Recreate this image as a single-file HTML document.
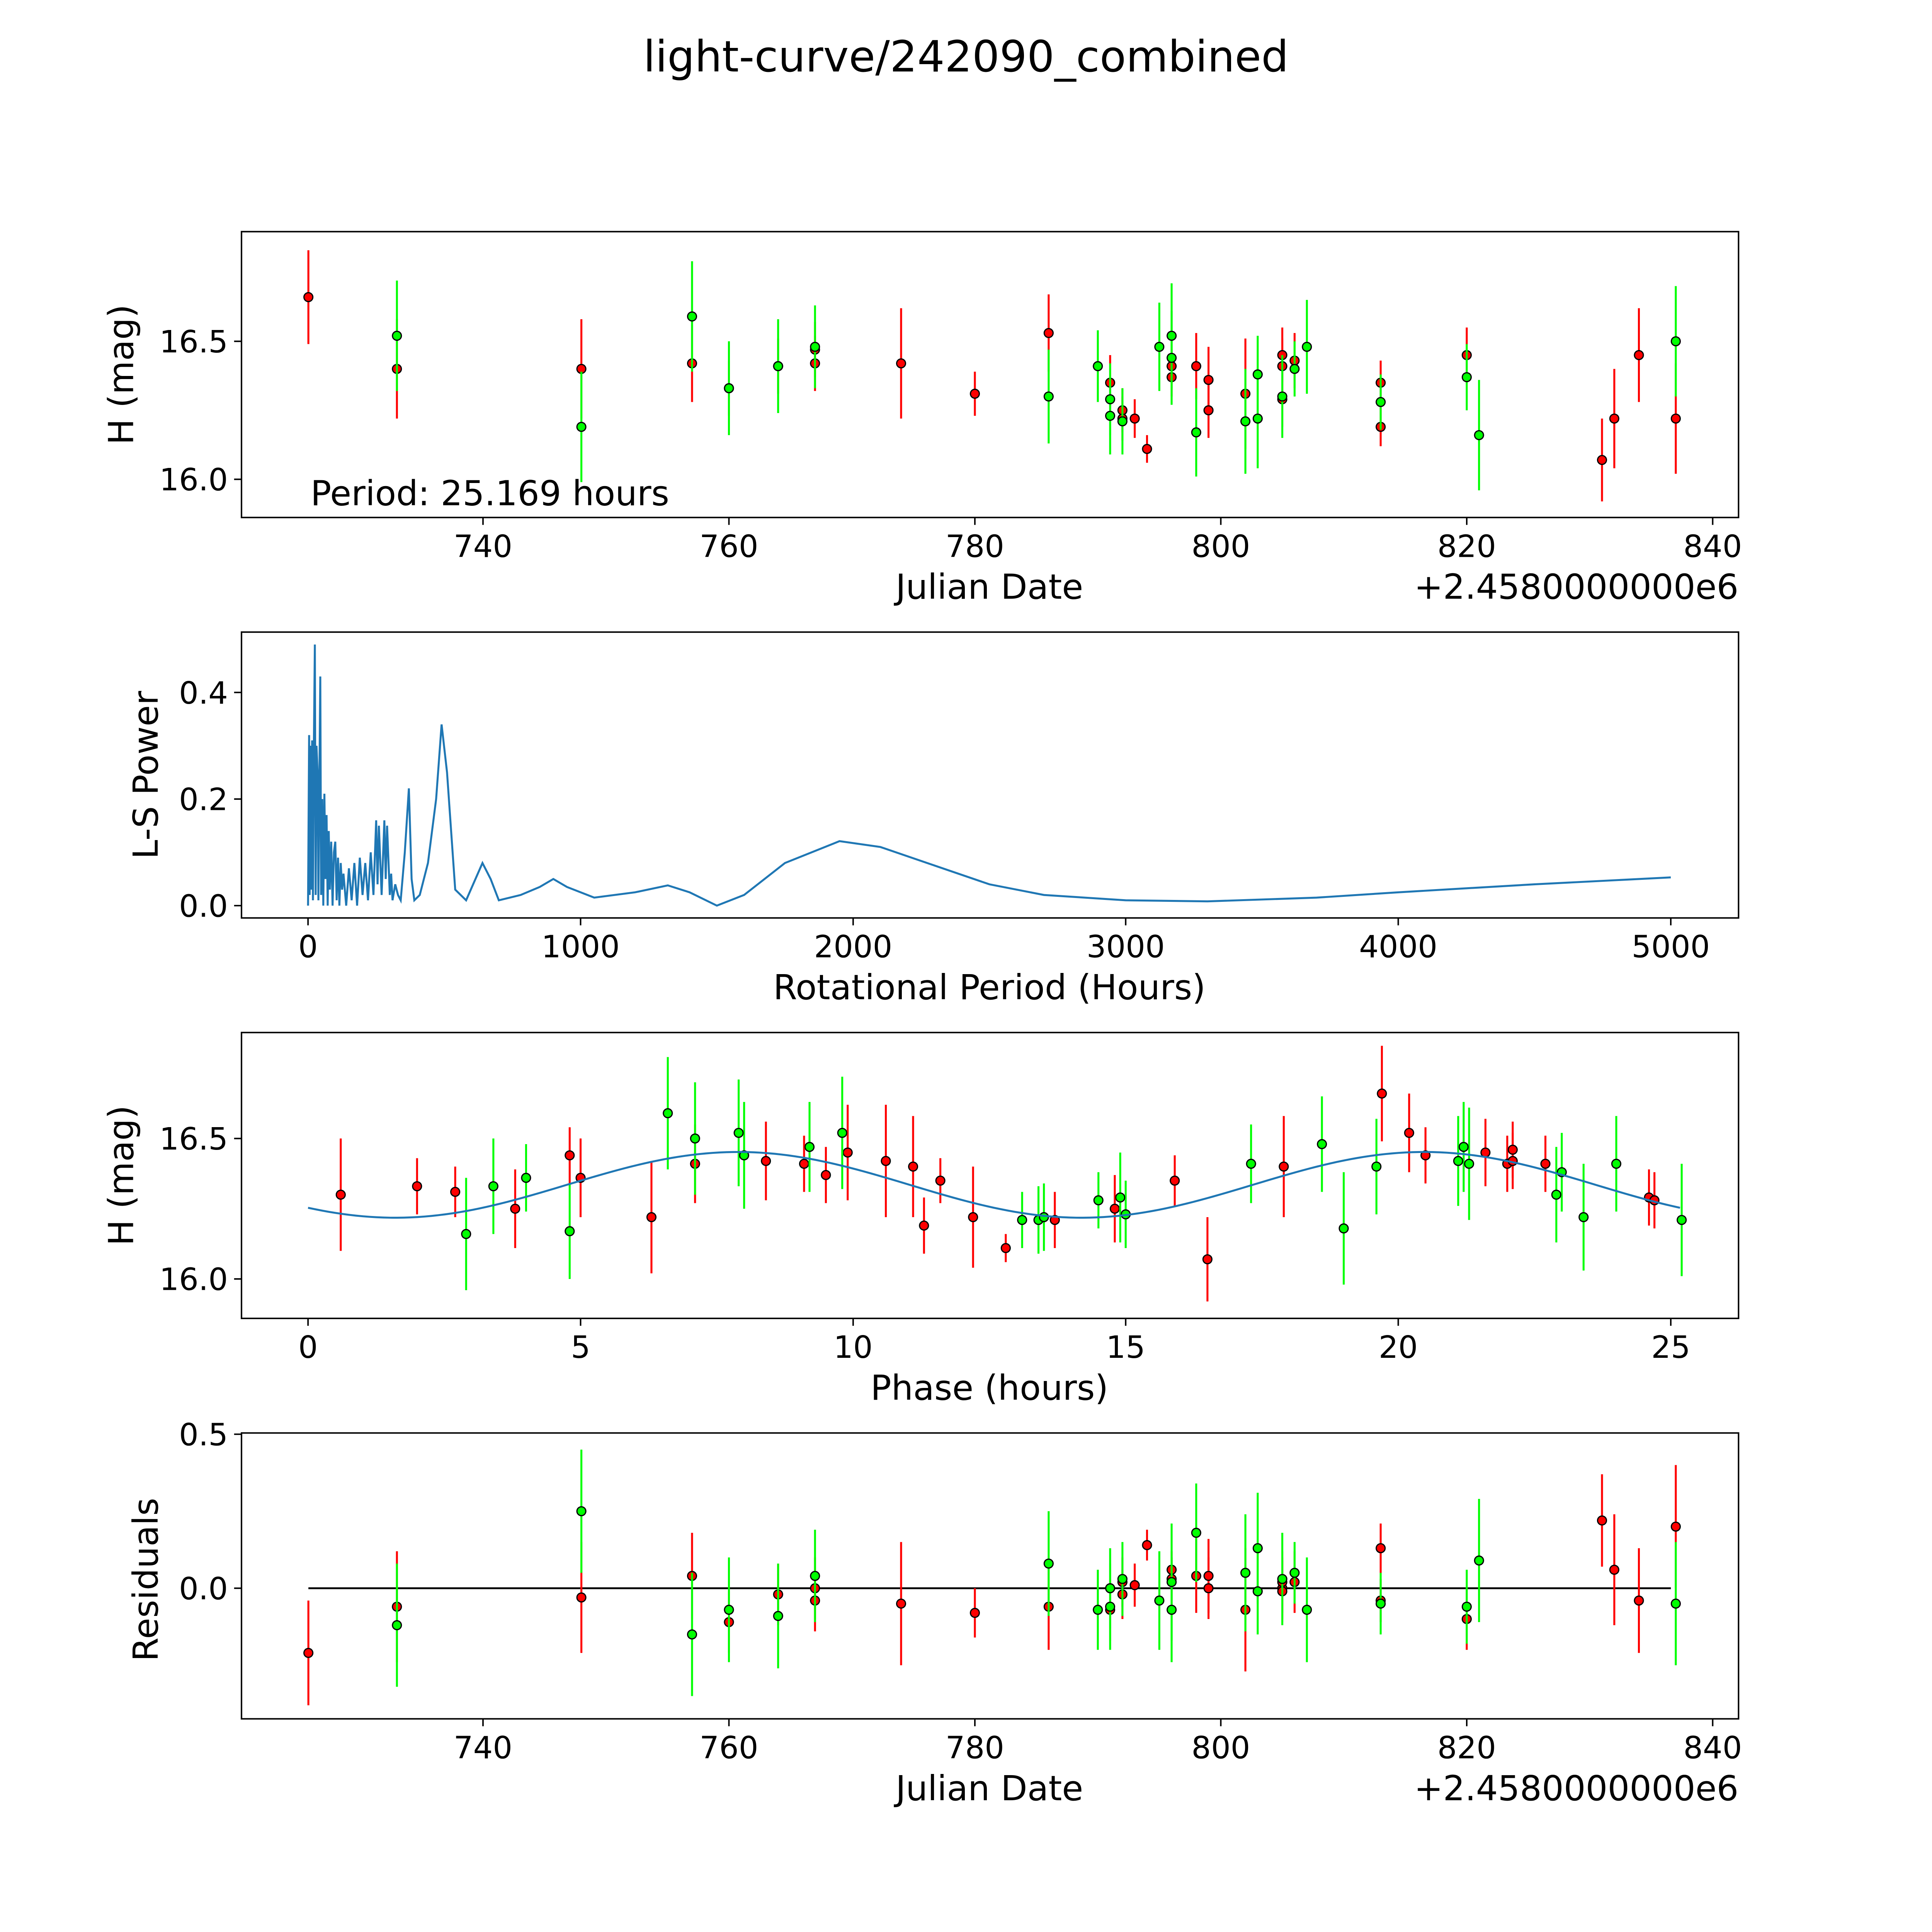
<!DOCTYPE html>
<html><head><meta charset="utf-8"><style>html,body{margin:0;padding:0;background:#fff;overflow:hidden;width:100vw;height:100vh}svg{display:block;width:100vw;height:100vh}text{font-family:"DejaVu Sans","Liberation Sans",sans-serif;fill:#000}</style></head>
<body>
<svg id="fig" viewBox="0 0 1568 1568" preserveAspectRatio="none" xmlns="http://www.w3.org/2000/svg">
<rect width="1568" height="1568" fill="#fff"/>
<text x="784" y="58" font-size="35" text-anchor="middle">light-curve/242090_combined</text>
<g id="g"></g>
</svg>
<script>
// ---- data ----
const lcRedJD=[725.8,733,748,757,760,764,767,767,774,780,786,791,792,792,793,794,796,796,798,799,799,802,805,805,805,806,813,813,820,831,832,834,837];
const lcRedMag=[16.66,16.40,16.40,16.42,16.33,16.41,16.47,16.42,16.42,16.31,16.53,16.35,16.25,16.22,16.22,16.11,16.41,16.37,16.41,16.36,16.25,16.31,16.45,16.41,16.29,16.43,16.35,16.19,16.45,16.07,16.22,16.45,16.22];
const lcRedErr=[0.17,0.18,0.18,0.14,0.1,0.1,0.1,0.1,0.2,0.08,0.14,0.1,0.08,0.08,0.07,0.05,0.06,0.07,0.12,0.12,0.1,0.2,0.1,0.1,0.1,0.1,0.08,0.07,0.1,0.15,0.18,0.17,0.2];
const lcGrnJD=[733,748,757,760,764,767,786,790,791,791,792,795,796,796,798,802,803,803,805,806,807,813,820,821,837];
const lcGrnMag=[16.52,16.19,16.59,16.33,16.41,16.48,16.30,16.41,16.29,16.23,16.21,16.48,16.52,16.44,16.17,16.21,16.22,16.38,16.30,16.40,16.48,16.28,16.37,16.16,16.50];
const lcGrnErr=[0.2,0.2,0.2,0.17,0.17,0.15,0.17,0.13,0.13,0.14,0.12,0.16,0.19,0.17,0.16,0.19,0.18,0.14,0.15,0.1,0.17,0.1,0.12,0.2,0.2];
const lsPeriod=[0,4,6,9,12,15,18,21,25,28,31,35,38,41,45,48,52,56,60,64,68,72,76,80,85,90,95,100,105,110,115,120,125,130,140,150,160,170,180,190,200,210,220,230,240,250,255,260,270,280,285,290,300,305,310,320,330,340,355,370,380,390,410,440,470,490,510,540,580,640,670,700,780,850,900,950,1050,1200,1320,1400,1500,1600,1750,1950,2100,2300,2500,2700,3000,3300,3700,4000,4500,5000];
const lsPower=[0,0.32,0.02,0.3,0.03,0.31,0.01,0.28,0.49,0.02,0.3,0.25,0.01,0.2,0.43,0.02,0.2,0.0,0.21,0.05,0.17,0.0,0.14,0.03,0.12,0.0,0.1,0.12,0.01,0.09,0.0,0.08,0.03,0.06,0.0,0.07,0.01,0.08,0.0,0.09,0.02,0.08,0.01,0.1,0.02,0.16,0.04,0.15,0.02,0.16,0.05,0.15,0.02,0.06,0.01,0.04,0.02,0.01,0.1,0.22,0.05,0.01,0.02,0.08,0.2,0.34,0.25,0.03,0.01,0.08,0.05,0.01,0.02,0.035,0.05,0.035,0.015,0.025,0.038,0.025,0,0.02,0.08,0.121,0.11,0.075,0.04,0.02,0.01,0.008,0.015,0.025,0.04,0.053];
const phRedX=[0.6,2.0,2.7,3.8,4.8,5.0,6.3,7.1,8.4,9.1,9.5,9.9,10.6,11.1,11.3,11.6,12.2,12.8,13.7,14.8,15.9,16.5,17.9,19.7,20.2,20.5,21.6,22.0,22.1,22.1,22.7,24.6,24.7];
const phRedMag=[16.30,16.33,16.31,16.25,16.44,16.36,16.22,16.41,16.42,16.41,16.37,16.45,16.42,16.40,16.19,16.35,16.22,16.11,16.21,16.25,16.35,16.07,16.40,16.66,16.52,16.44,16.45,16.41,16.46,16.42,16.41,16.29,16.28];
const phRedErr=[0.2,0.1,0.09,0.14,0.1,0.14,0.2,0.14,0.14,0.1,0.1,0.17,0.2,0.18,0.1,0.08,0.18,0.05,0.1,0.12,0.09,0.15,0.18,0.17,0.14,0.1,0.12,0.1,0.1,0.1,0.1,0.1,0.1];
const phGrnX=[2.9,3.4,4.0,4.8,6.6,7.1,7.9,8.0,9.2,9.8,13.1,13.4,13.5,14.5,14.9,15.0,17.3,18.6,19.0,19.6,21.1,21.2,21.3,22.9,23.0,23.4,24.0,25.2];
const phGrnMag=[16.16,16.33,16.36,16.17,16.59,16.50,16.52,16.44,16.47,16.52,16.21,16.21,16.22,16.28,16.29,16.23,16.41,16.48,16.18,16.40,16.42,16.47,16.41,16.30,16.38,16.22,16.41,16.21];
const phGrnErr=[0.2,0.17,0.12,0.17,0.2,0.2,0.19,0.19,0.16,0.2,0.1,0.12,0.12,0.1,0.16,0.12,0.14,0.17,0.2,0.17,0.16,0.16,0.2,0.17,0.14,0.19,0.17,0.2];
const fitParams=[16.335,0.117,1.6,12.5845]; // mean, amplitude, phase offset, half period
const resRedJD=lcRedJD;
const resRedVal=[-0.21,-0.06,-0.03,0.04,-0.11,-0.02,0.0,-0.04,-0.05,-0.08,-0.06,-0.07,0.02,-0.02,0.01,0.14,0.06,0.03,0.04,0.04,0.0,-0.07,0.0,0.02,-0.01,0.02,0.13,-0.04,-0.1,0.22,0.06,-0.04,0.2];
const resGrnJD=lcGrnJD;
const resGrnVal=[-0.12,0.25,-0.15,-0.07,-0.09,0.04,0.08,-0.07,0.0,-0.06,0.03,-0.04,0.02,-0.07,0.18,0.05,0.13,-0.01,0.03,0.05,-0.07,-0.05,-0.06,0.09,-0.05];
const jdTicks=[740,760,780,800,820,840];
const magTicks=[16.0,16.5];
const lsXTicks=[0,1000,2000,3000,4000,5000];
const lsYTicks=[0.0,0.2,0.4];
const phTicks=[0,5,10,15,20,25];
const resTicks=[0.0,0.5];

const NS="http://www.w3.org/2000/svg";
const G=document.getElementById('g');
function mk(tag,attrs,parent){const e=document.createElementNS(NS,tag);for(const k in attrs)e.setAttribute(k,attrs[k]);(parent||G).appendChild(e);return e;}
function lin(d0,d1,p0,p1){return v=>p0+(v-d0)*(p1-p0)/(d1-d0);}
const X0=196,X1=1411;
const jdX=lin(740,840,392,1390);
function panel(name,top,xs,ys,xt,yt,xfmt,yfmt){
  const g=mk('g',{});
  
  
  const bot=top+232;
  xt.forEach(t=>{const x=xs(t);mk('line',{x1:x,x2:x,y1:bot,y2:bot+6,stroke:'#000','stroke-width':1.2},g);
    const tx=mk('text',{x:x,y:bot+32,'font-size':25,'text-anchor':'middle'},g);tx.textContent=xfmt(t);
    
    });
  yt.forEach(t=>{const y=ys(t);mk('line',{x1:X0,x2:X0-6,y1:y,y2:y,stroke:'#000','stroke-width':1.2},g);
    const tx=mk('text',{x:X0-11,y:y+9,'font-size':25,'text-anchor':'end'},g);tx.textContent=yfmt(t);
    
    });
  return g;
}
function frame(g,top){mk('rect',{x:X0,y:top,width:X1-X0,height:232,fill:'none',stroke:'#000','stroke-width':1.2},g);}
function pts(g,xs,ys,X,Y,E,col,name){
  X.forEach((v,i)=>{const x=xs(v);
    const l=mk('line',{x1:x,x2:x,y1:ys(Y[i]-E[i]),y2:ys(Y[i]+E[i]),stroke:col,'stroke-width':1.6},g);
    
    });
  X.forEach((v,i)=>{const c=mk('circle',{cx:xs(v),cy:ys(Y[i]),r:3.6,fill:col,stroke:'#000','stroke-width':1},g);
    
    });
}
function label(g,txt,x,y,rot,name){const t=mk('text',{x:x,y:y,'font-size':28,'text-anchor':'middle'},g);
  if(rot)t.setAttribute('transform','rotate(-90 '+x+' '+y+')');t.textContent=txt;
  
  }
const f1=v=>v.toFixed(1);
// Panel 1
{const top=188;const ys=lin(16.0,16.5,389,277);
 const g=panel('light-curve-panel',top,jdX,ys,jdTicks,magTicks,String,f1);
 pts(g,jdX,ys,lcRedJD,lcRedMag,lcRedErr,'#ff0000','red-series');
 pts(g,jdX,ys,lcGrnJD,lcGrnMag,lcGrnErr,'#00ff00','green-series');
 frame(g,top);
 label(g,'H (mag)',108,304,true,'y-axis-title');
 label(g,'Julian Date',803,486,false,'x-axis-title');
 const o=mk('text',{x:1411,y:486,'font-size':28,'text-anchor':'end'},g);o.textContent='+2.4580000000e6';
 
 
 const p=mk('text',{x:252,y:410,'font-size':28},g);p.textContent='Period: 25.169 hours';
 
 }
// Panel 2
{const top=513;const xs=lin(0,5000,250,1356);const ys=lin(0,0.4,735,562);
 const g=panel('periodogram-panel',top,xs,ys,lsXTicks,lsYTicks,String,f1);
 const d=lsPeriod.map((v,i)=>(i?'L':'M')+xs(v).toFixed(2)+','+ys(lsPower[i]).toFixed(2)).join('');
 const pa=mk('path',{d:d,fill:'none',stroke:'#1f77b4','stroke-width':1.6},g);
 
 
 frame(g,top);
 label(g,'L-S Power',128,629,true,'y-axis-title');
 label(g,'Rotational Period (Hours)',803,811,false,'x-axis-title');}
// Panel 3
{const top=838;const xs=lin(0,25,250,1356);const ys=lin(16.0,16.5,1038,924);
 const g=panel('phase-panel',top,xs,ys,phTicks,magTicks,String,f1);
 pts(g,xs,ys,phRedX,phRedMag,phRedErr,'#ff0000','red-series');
 pts(g,xs,ys,phGrnX,phGrnMag,phGrnErr,'#00ff00','green-series');
 let d='';for(let i=0;i<=200;i++){const p=25.169*i/200;const m=fitParams[0]-fitParams[1]*Math.cos(2*Math.PI*(p-fitParams[2])/fitParams[3]);d+=(i?'L':'M')+xs(p).toFixed(2)+','+ys(m).toFixed(2);}
 const pa=mk('path',{d:d,fill:'none',stroke:'#1f77b4','stroke-width':1.6},g);
 
 
 frame(g,top);
 label(g,'H (mag)',108,954,true,'y-axis-title');
 label(g,'Phase (hours)',803,1136,false,'x-axis-title');}
// Panel 4
{const top=1163;const ys=lin(0,0.5,1289,1164);
 const g=panel('residuals-panel',top,jdX,ys,jdTicks,resTicks,String,f1);
 const zl=mk('line',{x1:jdX(725.8),x2:jdX(836.6),y1:ys(0),y2:ys(0),stroke:'#000','stroke-width':1.5},g);
 
 
 pts(g,jdX,ys,resRedJD,resRedVal,lcRedErr,'#ff0000','red-series');
 pts(g,jdX,ys,resGrnJD,resGrnVal,lcGrnErr,'#00ff00','green-series');
 frame(g,top);
 label(g,'Residuals',128,1282,true,'y-axis-title');
 label(g,'Julian Date',803,1461,false,'x-axis-title');
 const o=mk('text',{x:1411,y:1461,'font-size':28,'text-anchor':'end'},g);o.textContent='+2.4580000000e6';
 
 }
</script>
</body></html>
